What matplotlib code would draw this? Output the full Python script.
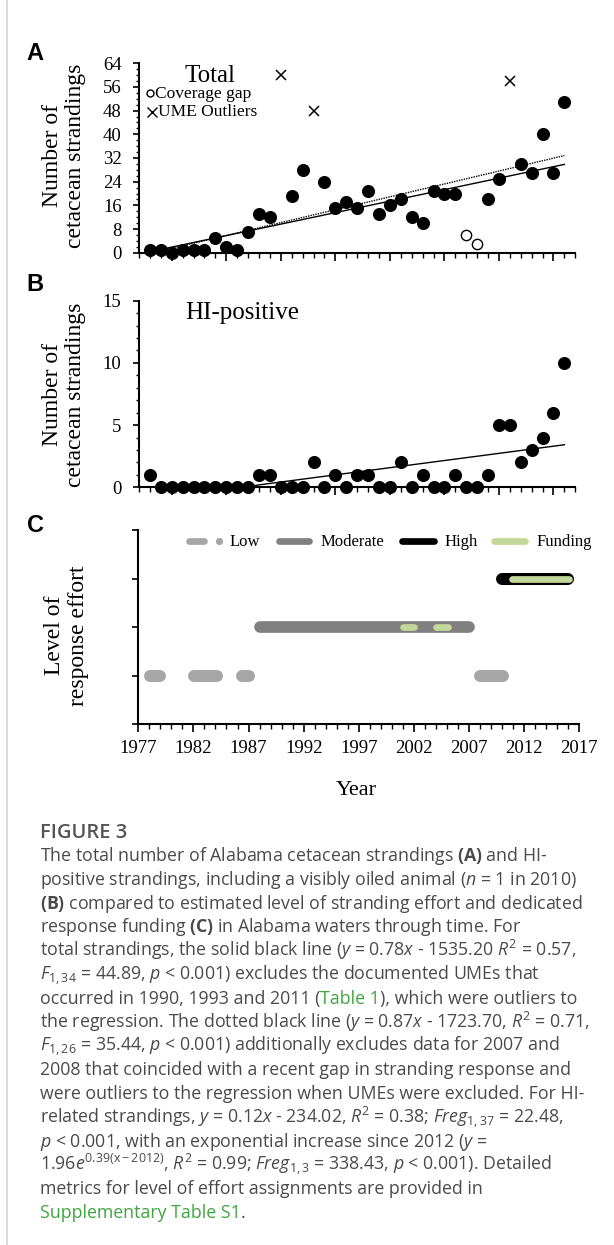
"""
Alabama cetacean strandings (A: total, B: HI-positive) and response effort (C)
"""
import numpy as np
import matplotlib
matplotlib.use("Agg")
import matplotlib.pyplot as plt
from matplotlib.lines import Line2D
from matplotlib.ticker import MultipleLocator

W, H = 614, 1245

years = np.arange(1978, 2017)
total = [1, 1, 0, 1, 1, 1, 5, 2, 1, 7, 13, 12, 60, 19, 28, 48, 24, 15, 17, 15,
         21, 13, 16, 18, 12, 10, 21, 20, 20, 6, 3, 18, 25, 58, 30, 27, 40, 27, 51]
hi_positive = [1, 0, 0, 0, 0, 0, 0, 0, 0, 0, 1, 1, 0, 0, 0, 2, 0, 1, 0, 1,
               1, 0, 0, 2, 0, 1, 0, 0, 1, 0, 0, 1, 5, 5, 2, 3, 4, 6, 10]
ume_years = [1990, 1993, 2011]
gap_years = [2007, 2008]

# level of effort (1 low, 2 moderate, 3 high), spans in years
low_spans = [(1977.5, 1979.55), (1981.5, 1984.7), (1985.9, 1987.6), (2007.45, 2010.6)]
moderate_spans = [(1987.5, 2007.55)]
high_spans = [(2009.4, 2016.5)]
funding_spans = [(2000.7, 2002.35), (2003.7, 2005.35), (2010.6, 2016.35)]
funding_levels = [2, 2, 3]

LOW_C, MOD_C, HIGH_C, FUND_C = "#a6a6a6", "#808080", "#000000", "#c4d79b"

plt.rcParams["font.family"] = ["Liberation Serif", "DejaVu Serif"]
plt.rcParams["mathtext.fontset"] = "custom"
plt.rcParams["mathtext.rm"] = "Open Sans"
plt.rcParams["mathtext.it"] = "Open Sans:italic"
plt.rcParams["mathtext.bf"] = "Open Sans:bold"

fig = plt.figure(figsize=(W / 100, H / 100), dpi=100)


def rect(x0, x1, ytop, ybot):
    return [x0 / W, 1 - ybot / H, (x1 - x0) / W, (ybot - ytop) / H]


def style_axes(ax):
    for s in ["top", "right"]:
        ax.spines[s].set_visible(False)
    for s in ["left", "bottom"]:
        ax.spines[s].set_linewidth(1.5)
    ax.tick_params(which="major", direction="out", width=1.2, labelsize=13.5)
    ax.tick_params(which="minor", direction="out", width=1.0)
    ax.tick_params(axis="y", which="major", length=4.5, pad=8)
    ax.tick_params(axis="y", which="minor", length=2.5)
    ax.tick_params(axis="x", which="major", length=5.5, pad=6)
    ax.tick_params(axis="x", which="minor", length=3.5)
    ax.set_xlim(1977, 2017)
    ax.xaxis.set_major_locator(MultipleLocator(5))
    ax.xaxis.set_minor_locator(MultipleLocator(1))


yrs = np.array(years)
tot = np.array(total)
hip = np.array(hi_positive)
is_ume = np.isin(yrs, ume_years)
is_gap = np.isin(yrs, gap_years)
normal = ~is_ume & ~is_gap

# ---- A: total strandings
axA = fig.add_axes(rect(139, 575.3, 63.3, 252.7))
style_axes(axA)
axA.set_ylim(0, 64)
axA.yaxis.set_major_locator(MultipleLocator(8))
axA.yaxis.set_minor_locator(MultipleLocator(2))
axA.set_xticklabels([])

fit_solid = np.polyfit(yrs[~is_ume], tot[~is_ume], 1)
fit_dot = np.polyfit(yrs[normal], tot[normal], 1)
xx = np.array([1978, 2016])
axA.plot(xx, np.polyval(fit_solid, xx), color="black", lw=1.0, zorder=2)
axA.plot(xx, np.polyval(fit_dot, xx), color="black", lw=1.0, dashes=(1, 0.8), zorder=2)

axA.plot(yrs[normal], tot[normal], "o", color="black", ms=8.4, clip_on=False, zorder=3)
axA.plot(yrs[is_gap], tot[is_gap], "o", mfc="white", mec="black", mew=1.0, ms=7.4,
         clip_on=False, zorder=3)
axA.plot(yrs[is_ume], tot[is_ume], "x", color="black", mew=1.1, ms=7.2, clip_on=False, zorder=3)

axA.text(1983.5, 57.8, "Total", ha="center", va="baseline", fontsize=18)
axA.plot(1978.05, 53.9, "o", mfc="white", mec="black", mew=1.0, ms=5.0, clip_on=False)
axA.text(1978.45, 52.4, "Coverage gap", ha="left", va="baseline", fontsize=12.5)
axA.plot(1978.2, 47.6, "x", color="black", mew=1.0, ms=6.5, clip_on=False)
axA.text(1978.75, 46.2, "UME Outliers", ha="left", va="baseline", fontsize=12.5)

# ---- B: HI-positive
axB = fig.add_axes(rect(139, 575.3, 300.7, 487.3))
style_axes(axB)
axB.set_ylim(0, 15)
axB.yaxis.set_major_locator(MultipleLocator(5))
axB.yaxis.set_minor_locator(MultipleLocator(1))
axB.set_xticklabels([])

fit_hi = np.polyfit(yrs, hip, 1)
axB.plot(xx, np.polyval(fit_hi, xx), color="black", lw=1.0, zorder=2)
axB.plot(yrs, hip, "o", color="black", ms=8.4, clip_on=False, zorder=3)
axB.text(1981.2, 13.5, "HI-positive", ha="left", va="baseline", fontsize=18)

# ---- C: level of response effort
c_rect = rect(138.3, 579.3, 530, 724)
axC = fig.add_axes(c_rect)
style_axes(axC)
axC.set_ylim(0, 4)
axC.yaxis.set_major_locator(MultipleLocator(1))
axC.set_yticklabels([])
axC.set_xticks(np.arange(1977, 2018, 5))
axC.set_xticklabels([str(y) for y in range(1977, 2018, 5)])

px_per_year = c_rect[2] * W / 40


def bar(x0, x1, level, color, lw_px, z):
    r = lw_px / 2 / px_per_year
    axC.plot([x0 + r, x1 - r], [level, level], color=color, lw=lw_px * 0.72,
             solid_capstyle="round", zorder=z)


for s in low_spans:
    bar(s[0], s[1], 1, LOW_C, 12, 2)
for s in moderate_spans:
    bar(s[0], s[1], 2, MOD_C, 11.7, 2)
for s in high_spans:
    bar(s[0], s[1], 3, HIGH_C, 12, 2)
for s, lv in zip(funding_spans, funding_levels):
    bar(s[0], s[1], lv, FUND_C, 6.7, 3)

# legend
ly = 3.78
bar(1981.33, 1983.26, ly, LOW_C, 6.7, 3)
axC.plot(1984.31, ly, "o", color=LOW_C, ms=5.2, mew=0)
axC.text(1985.3, 3.68, "Low", va="baseline", fontsize=12)
bar(1989.5, 1992.82, ly, MOD_C, 6.7, 3)
axC.text(1993.55, 3.68, "Moderate", va="baseline", fontsize=12)
bar(2000.6, 2004.08, ly, HIGH_C, 6.7, 3)
axC.text(2004.74, 3.68, "High", va="baseline", fontsize=12)
bar(2008.98, 2012.39, ly, FUND_C, 6.7, 3)
axC.text(2013.1, 3.68, "Funding", va="baseline", fontsize=12)

# axis labels
fig.text(64 / W, 1 - 155.8 / H, "Number of\ncetacean strandings", rotation=90,
         ha="center", va="center", fontsize=17, linespacing=1.15)
fig.text(64 / W, 1 - 395 / H, "Number of\ncetacean strandings", rotation=90,
         ha="center", va="center", fontsize=17, linespacing=1.15)
fig.text(66.5 / W, 1 - 635.8 / H, "Level of\nresponse effort", rotation=90,
         ha="center", va="center", fontsize=17, linespacing=1.15)
fig.text(356 / W, 1 - 795 / H, "Year", ha="center", va="baseline", fontsize=16)

for letter, (lx, ly_) in zip("ABC", [(26, 60), (26.5, 290.7), (26.5, 532)]):
    fig.text(lx / W, 1 - ly_ / H, letter, fontfamily="Liberation Sans", weight="bold",
             fontsize=17, va="baseline")

# left border
fig.add_artist(Line2D([7 / W, 7 / W], [0, 1], color="#d4d4d4", lw=1.2))

# ---- caption
DARK = "#4a4a4a"
GREEN = "#3fa53f"
cap = dict(fontfamily="Open Sans", fontsize=12.8, va="baseline")
fig.text(40 / W, 1 - 838.3 / H, "FIGURE 3", color="#555555", fontfamily="Open Sans",
         weight="semibold", fontsize=14.5, va="baseline")

caption_lines = [
    [(r"The total number of Alabama cetacean strandings $\mathbf{(A)}$ and HI-", DARK)],
    [(r"positive strandings, including a visibly oiled animal ($n$ = 1 in 2010)", DARK)],
    [(r"$\mathbf{(B)}$ compared to estimated level of stranding effort and dedicated", DARK)],
    [(r"response funding $\mathbf{(C)}$ in Alabama waters through time. For", DARK)],
    [(r"total strandings, the solid black line ($y$ = 0.78$x$ - 1535.20 $R^2$ = 0.57,", DARK)],
    [(r"$F_{1,34}$ = 44.89, $p$ < 0.001) excludes the documented UMEs that", DARK)],
    [("occurred in 1990, 1993 and 2011 (", DARK), ("Table 1", GREEN),
     ("), which were outliers to", DARK)],
    [(r"the regression. The dotted black line ($y$ = 0.87$x$ - 1723.70, $R^2$ = 0.71,", DARK)],
    [(r"$F_{1,26}$ = 35.44, $p$ < 0.001) additionally excludes data for 2007 and", DARK)],
    [("2008 that coincided with a recent gap in stranding response and", DARK)],
    [("were outliers to the regression when UMEs were excluded. For HI-", DARK)],
    [(r"related strandings, $y$ = 0.12$x$ - 234.02, $R^2$ = 0.38; $Freg_{1,37}$ = 22.48,", DARK)],
    [(r"$p$ < 0.001, with an exponential increase since 2012 ($y$ =", DARK)],
    [(r"1.96$e^{\mathrm{0.39(x-2012)}}$, $R^2$ = 0.99; $Freg_{1,3}$ = 338.43, $p$ < 0.001). Detailed", DARK)],
    [("metrics for level of effort assignments are provided in", DARK)],
    [("Supplementary Table S1", GREEN), (".", DARK)],
]

renderer = fig.canvas.get_renderer()
for i, segs in enumerate(caption_lines):
    y = 861 + i * 23.8
    x = 40
    for s, c in segs:
        t = fig.text(x / W, 1 - y / H, s, color=c, **cap)
        x = t.get_window_extent(renderer).x1

fig.savefig("out.png", dpi=100)
